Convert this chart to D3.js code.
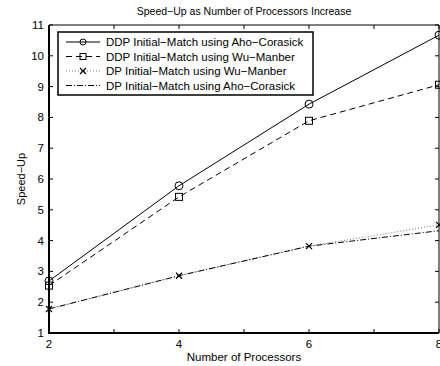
<!DOCTYPE html>
<html>
<head>
<meta charset="utf-8">
<script src="https://cdn.jsdelivr.net/npm/d3@7"></script>
<style>
  html, body { margin: 0; padding: 0; background: #fff; }
  svg { display: block; font-family: "Liberation Sans", Arial, sans-serif; }
</style>
</head>
<body>
<svg id="chart"></svg>
<script>
/* ---------- data ---------- */
const processors = [2, 4, 6, 8];
const ddpAho = [2.69, 5.78, 8.43, 10.67];
const ddpWu  = [2.54, 5.42, 7.89, 9.06];
const dpWu   = [1.78, 2.86, 3.82, 4.51];
const dpAho  = [1.78, 2.86, 3.82, 4.32];

const seriesNames = [
  "DDP Initial\u2212Match using Aho\u2212Corasick",
  "DDP Initial\u2212Match using Wu\u2212Manber",
  "DP Initial\u2212Match using Wu\u2212Manber",
  "DP Initial\u2212Match using Aho\u2212Corasick"
];
const xTicks = [2, 3, 4, 5, 6, 7, 8];
const xLabels = [2, 4, 6, 8];
const yTicks = d3.range(1, 12);

/* ---------- setup ---------- */
const width = 440, height = 366;
const m = { top: 25, right: 1, bottom: 33, left: 49 };

const svg = d3.select("#chart").attr("width", width).attr("height", height);

const x = d3.scaleLinear().domain([2, 8]).range([m.left, width - m.right]);
const y = d3.scaleLinear().domain([1, 11]).range([height - m.bottom, m.top]);

const series = [
  { name: seriesNames[0], values: ddpAho, dash: null, marker: "circle", color: "#000" },
  { name: seriesNames[1], values: ddpWu,  dash: "6,4", marker: "square", color: "#000" },
  { name: seriesNames[2], values: dpWu,   dash: "1,2", marker: "x", color: "#777" },
  { name: seriesNames[3], values: dpAho,  dash: "6,2,1,2", marker: null, color: "#000" }
];

/* ---------- frame + ticks ---------- */
const x0 = x.range()[0], x1 = x.range()[1], y0 = y.range()[0], y1 = y.range()[1];
const frame = svg.append("g");

// ticks inside, on all four sides
frame.selectAll(".xt").data(xTicks).enter().append("line")
  .attr("x1", d => x(d)).attr("x2", d => x(d))
  .attr("y1", y0).attr("y2", y0 - 4).attr("stroke", "#000");
frame.selectAll(".xtt").data(xTicks).enter().append("line")
  .attr("x1", d => x(d)).attr("x2", d => x(d))
  .attr("y1", y1).attr("y2", y1 + 4).attr("stroke", "#000");
frame.selectAll(".yt").data(yTicks).enter().append("line")
  .attr("x1", x0).attr("x2", x0 + 4)
  .attr("y1", d => y(d)).attr("y2", d => y(d)).attr("stroke", "#000");
frame.selectAll(".ytr").data(yTicks).enter().append("line")
  .attr("x1", x1).attr("x2", x1 - 4)
  .attr("y1", d => y(d)).attr("y2", d => y(d)).attr("stroke", "#000");

frame.append("line").attr("x1", x0).attr("x2", x1).attr("y1", y1).attr("y2", y1)
  .attr("stroke", "#000").attr("stroke-width", 1);
frame.append("line").attr("x1", x1).attr("x2", x1).attr("y1", y1).attr("y2", y0)
  .attr("stroke", "#000").attr("stroke-width", 1);
frame.append("line").attr("x1", x0 - 1).attr("x2", x1).attr("y1", y0).attr("y2", y0)
  .attr("stroke", "#000").attr("stroke-width", 2);
frame.append("line").attr("x1", x0).attr("x2", x0).attr("y1", y1).attr("y2", y0 + 1)
  .attr("stroke", "#000").attr("stroke-width", 2);

// tick labels
svg.selectAll(".xl").data(xLabels).enter().append("text")
  .attr("x", d => x(d)).attr("y", y0 + 15)
  .attr("text-anchor", "middle").attr("font-size", 11.5).text(d => d);
svg.selectAll(".yl").data(yTicks).enter().append("text")
  .attr("x", x0 - 5).attr("y", d => y(d) + 4)
  .attr("text-anchor", "end").attr("font-size", 11.5).text(d => d);

// titles
svg.append("text").attr("x", (x0 + x1) / 2).attr("y", 15)
  .attr("text-anchor", "middle").attr("font-size", 10.5)
  .text("Speed\u2212Up as Number of Processors Increase");
svg.append("text").attr("x", (x0 + x1) / 2).attr("y", 361)
  .attr("text-anchor", "middle").attr("font-size", 11.5)
  .text("Number of Processors");
svg.append("text")
  .attr("transform", `translate(25,${(y0 + y1) / 2}) rotate(-90)`)
  .attr("text-anchor", "middle").attr("font-size", 11)
  .text("Speed\u2212Up");

/* ---------- lines ---------- */
const line = d3.line().x((d, i) => x(processors[i])).y(d => y(d));

function drawMarker(g, type, cx, cy, r) {
  if (type === "circle") {
    g.append("circle").attr("cx", cx).attr("cy", cy).attr("r", r)
      .attr("fill", "none").attr("stroke", "#000");
  } else if (type === "square") {
    g.append("rect").attr("x", cx - r).attr("y", cy - r)
      .attr("width", 2 * r).attr("height", 2 * r)
      .attr("fill", "none").attr("stroke", "#000");
  } else if (type === "x") {
    g.append("path")
      .attr("d", `M${cx - 3},${cy - 3}L${cx + 3},${cy + 3}M${cx - 3},${cy + 3}L${cx + 3},${cy - 3}`)
      .attr("stroke", "#000").attr("stroke-width", 1.2);
  }
}

const plot = svg.append("g");
series.forEach(s => {
  plot.append("path").attr("d", line(s.values))
    .attr("fill", "none").attr("stroke", s.color).attr("stroke-width", 1)
    .attr("stroke-dasharray", s.dash);
  if (s.marker) s.values.forEach((v, i) => drawMarker(plot, s.marker, x(processors[i]), y(v), s.marker === "circle" ? 4 : 3.5));
});

/* ---------- legend ---------- */
const leg = svg.append("g");
leg.append("rect").attr("x", 58).attr("y", 32).attr("width", 255).attr("height", 63)
  .attr("fill", "#fff").attr("stroke", "#000").attr("stroke-width", 1.5);
series.forEach((s, i) => {
  const ly = 42 + i * 14.5;
  leg.append("line").attr("x1", 66).attr("x2", 100).attr("y1", ly).attr("y2", ly)
    .attr("stroke", s.color).attr("stroke-width", 1).attr("stroke-dasharray", s.dash);
  if (s.marker) drawMarker(leg, s.marker, 83, ly, 3);
  leg.append("text").attr("x", 106).attr("y", ly + 4)
    .attr("font-size", 11.5).text(s.name);
});
</script>
</body>
</html>
